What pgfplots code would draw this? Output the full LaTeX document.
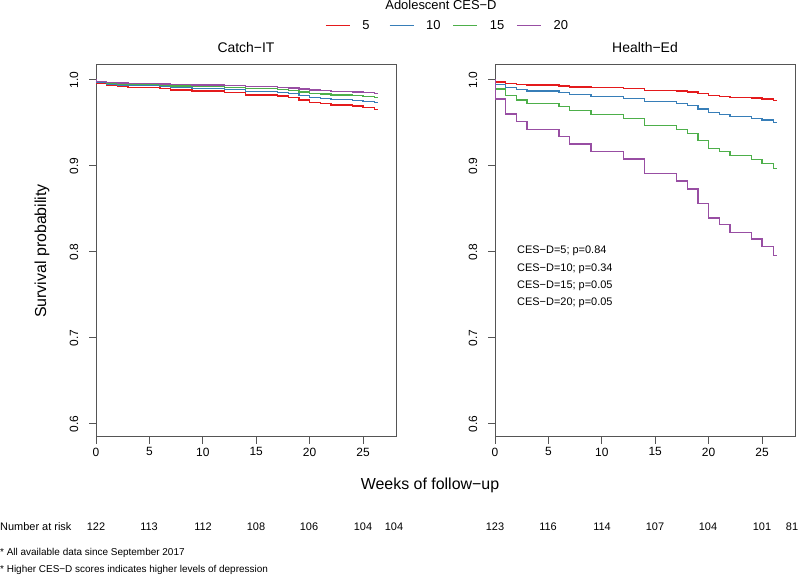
\documentclass[border=0pt]{standalone}
\usepackage{fontspec}
\setmainfont{Liberation Sans}
\usepackage{pgfplots}
\usepackage{pgfplotstable}
\pgfplotsset{compat=1.18}

\definecolor{cred}{HTML}{E41A1C}
\definecolor{cblue}{HTML}{377EB8}
\definecolor{cgreen}{HTML}{4DAF4A}
\definecolor{cpurple}{HTML}{984EA3}
\definecolor{axisgray}{HTML}{555555}

% weeks, CES-D 5, 10, 15, 20
\pgfplotstableread{
t r b g p
0 1 1 1 1
0.02 0.9966 0.9974 0.9980 0.9985
1 0.9941 0.9955 0.9965 0.9973
2 0.9924 0.9942 0.9955 0.9966
3 0.9912 0.9932 0.9948 0.9960
6 0.9900 0.9923 0.9940 0.9955
7 0.9885 0.9911 0.9931 0.9948
9 0.9871 0.9900 0.9923 0.9942
12 0.9855 0.9889 0.9914 0.9935
14 0.9827 0.9867 0.9898 0.9922
17 0.9813 0.9855 0.9889 0.9915
18 0.9797 0.9843 0.9879 0.9907
19 0.9769 0.9822 0.9862 0.9895
20 0.9738 0.9798 0.9844 0.9882
21 0.9726 0.9788 0.9836 0.9876
22 0.9709 0.9776 0.9827 0.9868
24 0.9696 0.9765 0.9819 0.9862
25 0.9679 0.9752 0.9809 0.9854
26.1 0.9659 0.9736 0.9796 0.9844
26.43 0.9659 0.9736 0.9796 0.9844
}\catchit

\pgfplotstableread{
t r b g p
0 1 1 1 1
0.02 0.9977 0.9950 0.9895 0.9779
1 0.9959 0.9914 0.9818 0.9605
2 0.9948 0.9890 0.9767 0.9516
3 0.9940 0.9872 0.9729 0.9426
6 0.9931 0.9853 0.9690 0.9341
7 0.9920 0.9830 0.9643 0.9256
9 0.9911 0.9811 0.9601 0.9167
12 0.9900 0.9788 0.9554 0.9081
14 0.9881 0.9747 0.9469 0.8911
17 0.9871 0.9727 0.9426 0.8826
18 0.9860 0.9704 0.9380 0.8733
19 0.9840 0.9663 0.9295 0.8566
20 0.9819 0.9618 0.9205 0.8395
21 0.9810 0.9600 0.9167 0.8322
22 0.9799 0.9577 0.9120 0.8229
24 0.9789 0.9556 0.9078 0.8151
25 0.9778 0.9533 0.9031 0.8062
26.1 0.9764 0.9504 0.8973 0.7957
26.43 0.9764 0.9504 0.8973 0.7957
}\healthed

\pgfplotsset{
  km/.style={
    scale only axis, width=300bp, height=372bp,
    anchor=south west,
    xmin=0, xmax=28.09, ymin=0.58488, ymax=1.01744,
    xtick={0,5,10,15,20,25},
    ytick={0.6,0.7,0.8,0.9,1.0},
    tick align=outside, major tick length=7bp,
    xtick pos=left, ytick pos=left,
    axis line style={draw=axisgray, line width=1bp},
    tick style={draw=axisgray, line width=1bp},
    /pgf/number format/assume math mode=true,
    every tick label/.append style={font=\fontsize{12}{14}\selectfont, text=black},
    xticklabel style={anchor=north, inner sep=0pt, yshift=-3.5bp},
    yticklabel style={anchor=south, rotate=90, inner sep=0pt, yshift=10.5bp,
      /pgf/number format/.cd, fixed, fixed zerofill, precision=1},
    every axis plot/.append style={const plot, line width=1.3bp,
      legend image code/.code={\draw[##1, line width=1.3bp] (0bp,0bp) -- (24bp,0bp);}},
  }
}

\begin{document}
\begin{tikzpicture}[x=1bp,y=1bp]
\useasboundingbox (0,0) rectangle (800,576);

\begin{axis}[km, at={(96bp,139bp)}]
\addplot[color=cred]    table[x=t, y=r] {\catchit};
\addplot[color=cblue]   table[x=t, y=b] {\catchit};
\addplot[color=cgreen]  table[x=t, y=g] {\catchit};
\addplot[color=cpurple] table[x=t, y=p] {\catchit};
\end{axis}

\begin{axis}[km, at={(495bp,139bp)},
  legend style={at={(-0.5667,1.1057)}, anchor=west, draw=none, fill=none,
    inner sep=0pt, font=\fontsize{13}{15}\selectfont,
    nodes={inner sep=0pt},
    /tikz/every odd column/.append style={column sep=12bp},
    /tikz/every even column/.append style={column sep=12bp}},
  legend columns=4,
]
\addplot[color=cred]    table[x=t, y=r] {\healthed};
\addplot[color=cblue]   table[x=t, y=b] {\healthed};
\addplot[color=cgreen]  table[x=t, y=g] {\healthed};
\addplot[color=cpurple] table[x=t, y=p] {\healthed};
\legend{5\phantom{0}, 10, 15, 20}
\end{axis}

% legend title
\node[anchor=base, font=\fontsize{13}{15}\selectfont] at (441,566.3) {Adolescent CES−D};

% panel titles
\node[anchor=base, font=\fontsize{14}{16}\selectfont] at (246,523) {Catch−IT};
\node[anchor=base, font=\fontsize{14}{16}\selectfont] at (645,523) {Health−Ed};

% axis titles
\node[rotate=90, font=\fontsize{16}{18}\selectfont] at (42,325) {Survival probability};
\node[font=\fontsize{16}{18}\selectfont] at (430,91) {Weeks of follow−up};

% p-values
\begin{scope}[every node/.style={anchor=west, font=\fontsize{11}{13}\selectfont, inner sep=0pt}]
\node at (517,325) {CES−D=5; p=0.84};
\node at (517,307.5) {CES−D=10; p=0.34};
\node at (517,290.5) {CES−D=15; p=0.05};
\node at (517,273.5) {CES−D=20; p=0.05};
\end{scope}

% number at risk
\begin{scope}[every node/.style={font=\fontsize{11}{13}\selectfont, inner sep=0pt}]
\node[anchor=west] at (0,49) {Number at risk};
\node at (96,49) {122};
\node at (149,49) {113};
\node at (203,49) {112};
\node at (256,49) {108};
\node at (309,49) {106};
\node at (363,49) {104};
\node at (394,49) {104};
\node at (495,49) {123};
\node at (548,49) {116};
\node at (602,49) {114};
\node at (655,49) {107};
\node at (708,49) {104};
\node at (762,49) {101};
\node at (792,49) {81};
\end{scope}

% footnotes
\begin{scope}[every node/.style={anchor=west, font=\fontsize{10}{12}\selectfont, inner sep=0pt}]
\node at (0,23) {* All available data since September 2017};
\node at (0,6.5) {* Higher CES−D scores indicates higher levels of depression};
\end{scope}
\end{tikzpicture}
\end{document}
